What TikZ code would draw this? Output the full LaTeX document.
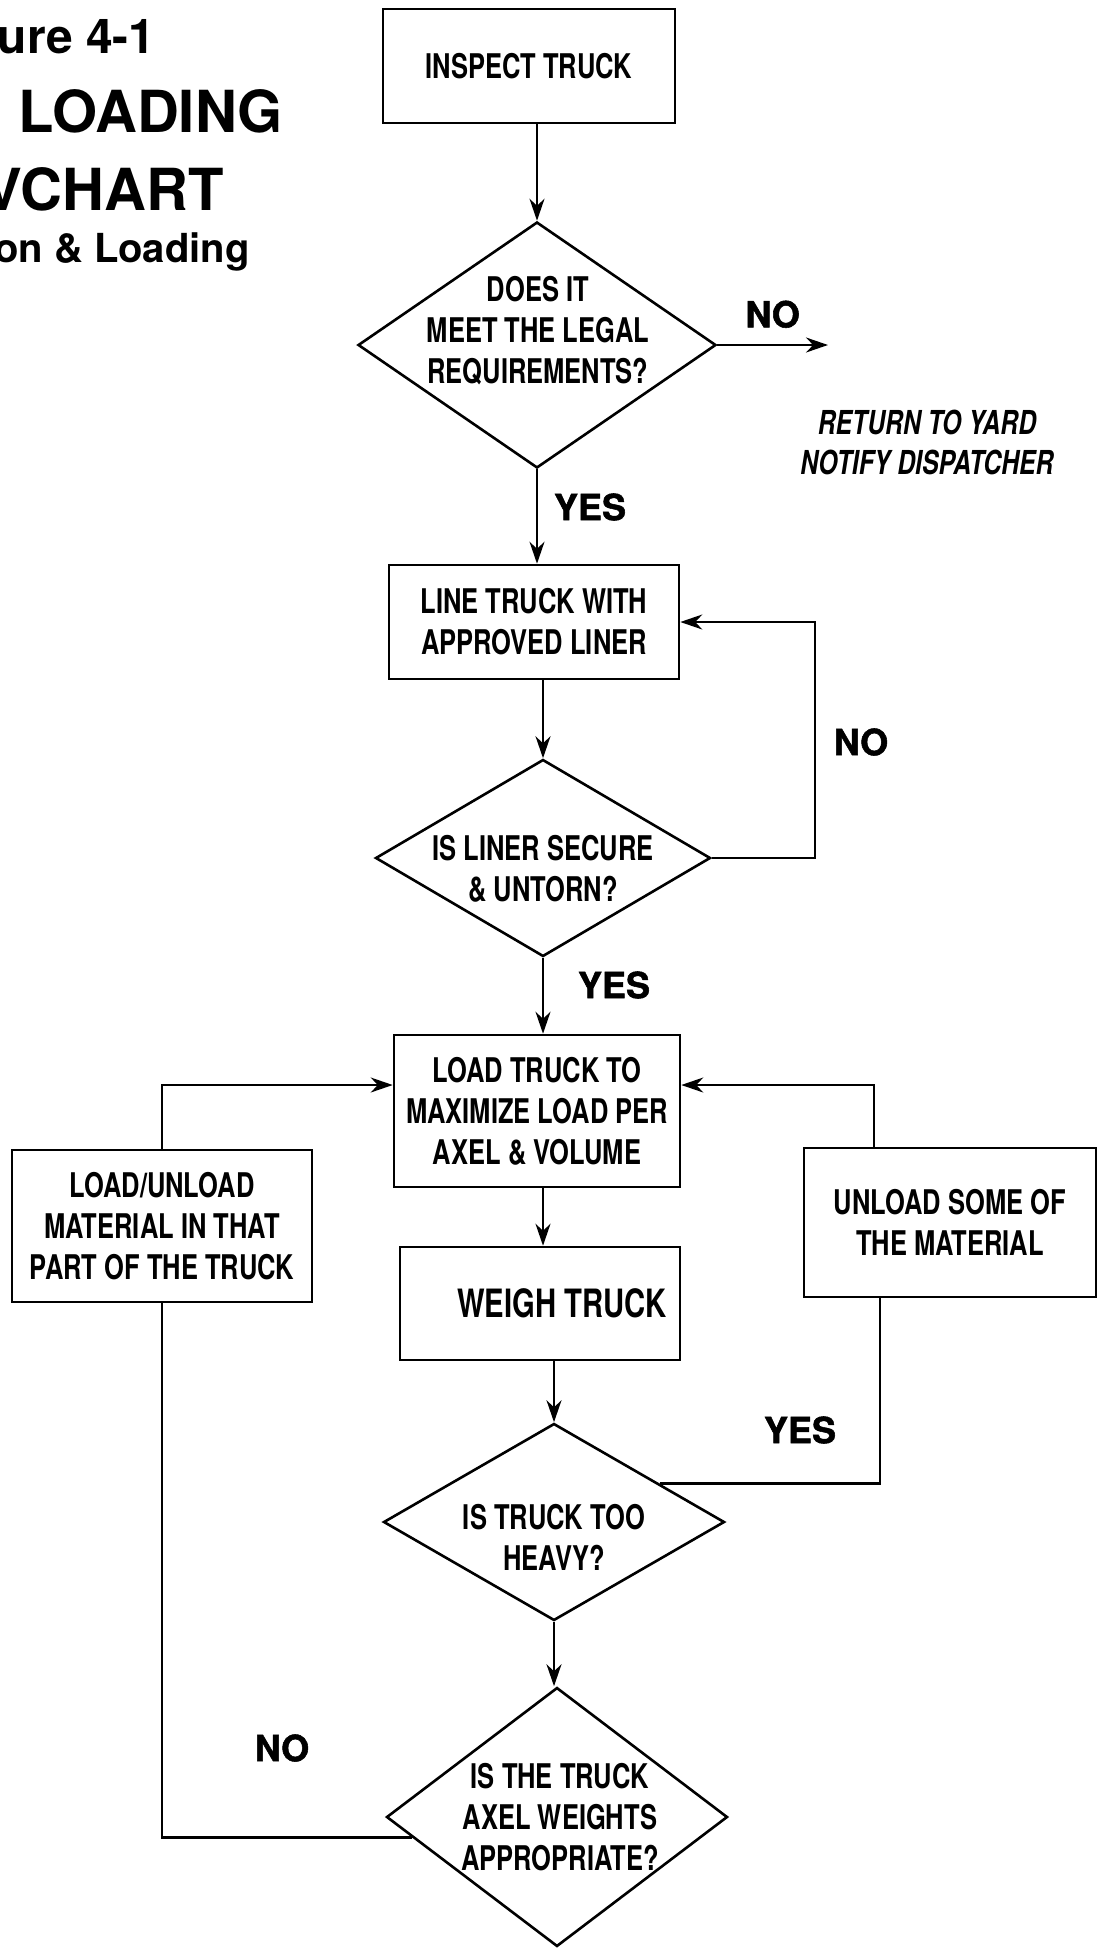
\documentclass[tikz,border=0pt]{standalone}
\usepackage{fontspec}
\setmainfont{TeX Gyre Heros}
\newfontfamily\condfont[FakeStretch=0.75]{TeX Gyre Heros}
\newfontfamily\heavyfont[FakeBold=1.5]{TeX Gyre Heros}
\usetikzlibrary{shapes.geometric,arrows.meta}

\tikzset{
    stepbox/.style={draw, rectangle, line width=1.3pt, inner sep=0pt, align=center,
        font=\condfont\bfseries\fontsize{17}{20.5}\selectfont},
    decision/.style={draw, diamond, line width=1.3pt, inner sep=0pt},
    qtext/.style={align=center, inner sep=0pt, font=\condfont\bfseries\fontsize{17}{20.5}\selectfont},
    answer/.style={inner sep=0pt, font=\heavyfont\bfseries\fontsize{18}{18}\selectfont},
    title/.style={anchor=base east, inner sep=0pt},
    flow/.style={line width=1.2pt, -{Stealth[length=11pt,width=7.5pt]}},
    link/.style={line width=1.2pt},
}

\begin{document}
\begin{tikzpicture}[x=0.5pt, y=-0.5pt]
    \useasboundingbox (0,0) rectangle (1101,1949);
    \clip (0,0) rectangle (1101,1949);

    \node[title, font=\bfseries\fontsize{24}{24}\selectfont] (fig-num) at (156,53) {ure 4-1};
    \node[title, font=\bfseries\fontsize{29}{30}\selectfont] (fig-name) at (283,132) {LOADING};
    \node[title, font=\bfseries\fontsize{29}{30}\selectfont] (fig-kind) at (224,210) {VCHART};
    \node[title, font=\bfseries\fontsize{20}{20}\selectfont] (fig-sub) at (250,262) {on \& Loading};

    \node[stepbox, minimum width=146pt, minimum height=57pt] (inspect) at (529,66) {INSPECT TRUCK};

    \node[decision, minimum width=179pt, minimum height=123pt] (legal) at (537,345) {};
    \node[qtext] (legal-q) at (538,331) {DOES IT\\MEET THE LEGAL\\REQUIREMENTS?};
    \coordinate (legal-out) at (828,345);
    \node[qtext, font=\condfont\bfseries\itshape\fontsize{16.5}{20}\selectfont] (yard) at (927,442) {RETURN TO YARD\\NOTIFY DISPATCHER};
    \node[answer] (legal-yes) at (590,507) {YES};

    \node[stepbox, minimum width=145pt, minimum height=57pt] (liner) at (534,622) {LINE TRUCK WITH\\APPROVED LINER};

    \node[decision, minimum width=167.5pt, minimum height=98.5pt] (secure) at (543,858) {};
    \node[qtext] (secure-q) at (543,869) {IS LINER SECURE\\\& UNTORN?};
    \node[answer] (secure-no) at (861,742) {NO};
    \node[answer] (secure-yes) at (614,985) {YES};

    \node[stepbox, minimum width=143pt, minimum height=76pt] (loadbox) at (537,1111) {LOAD TRUCK TO\\MAXIMIZE LOAD PER\\AXEL \& VOLUME};
    \node[stepbox, minimum width=140pt, minimum height=56.5pt,
        font=\condfont\bfseries\fontsize{19.5}{21}\selectfont] (weigh) at (540,1303.5) {\hspace*{22pt}WEIGH TRUCK};

    \node[decision, minimum width=170.5pt, minimum height=98.5pt] (heavy) at (554,1522) {};
    \node[qtext] (heavy-q) at (554,1537) {IS TRUCK TOO\\HEAVY?};
    \node[answer] (heavy-yes) at (800,1430) {YES};

    \node[stepbox, minimum width=146pt, minimum height=74.5pt] (unload) at (950,1222.5) {UNLOAD SOME OF\\THE MATERIAL};
    \node[stepbox, minimum width=150pt, minimum height=76pt] (fixpart) at (162,1226) {LOAD/UNLOAD\\MATERIAL IN THAT\\PART OF THE TRUCK};

    \node[decision, minimum width=170.5pt, minimum height=129.5pt] (axel) at (557,1817) {};
    \node[qtext] (axel-q) at (560,1817) {IS THE TRUCK\\AXEL WEIGHTS\\APPROPRIATE?};
    \node[answer] (axel-no) at (282,1748) {NO};

    \draw[flow] (legal.north |- inspect.south) -- (legal.north);
    \draw[flow] (legal) -- (legal-out) node[answer, midway, above=8pt] (legal-no) {NO};
    \draw[flow] (legal.south) -- (legal.south |- liner.north);
    \draw[flow] (secure.north |- liner.south) -- (secure.north);
    \draw[flow] (secure.east) -- ++(103,0) |- (liner.east);
    \draw[flow] (secure.south) -- (secure.south |- loadbox.north);
    \draw[flow] (secure.south |- loadbox.south) -- (secure.south |- weigh.north);
    \draw[flow] (heavy.north |- weigh.south) -- (heavy.north);
    \draw[link] (heavy.20) -| ([xshift=-35pt]unload.south);
    \draw[flow] ([xshift=-38pt]unload.north) |- ([yshift=13pt]loadbox.east);
    \draw[flow] (fixpart.north) |- ([yshift=13pt]loadbox.west);
    \draw[flow] (heavy.south) -- (heavy.south |- axel.north);
    \draw[link] (axel.188) -| (fixpart.south);
\end{tikzpicture}
\end{document}
